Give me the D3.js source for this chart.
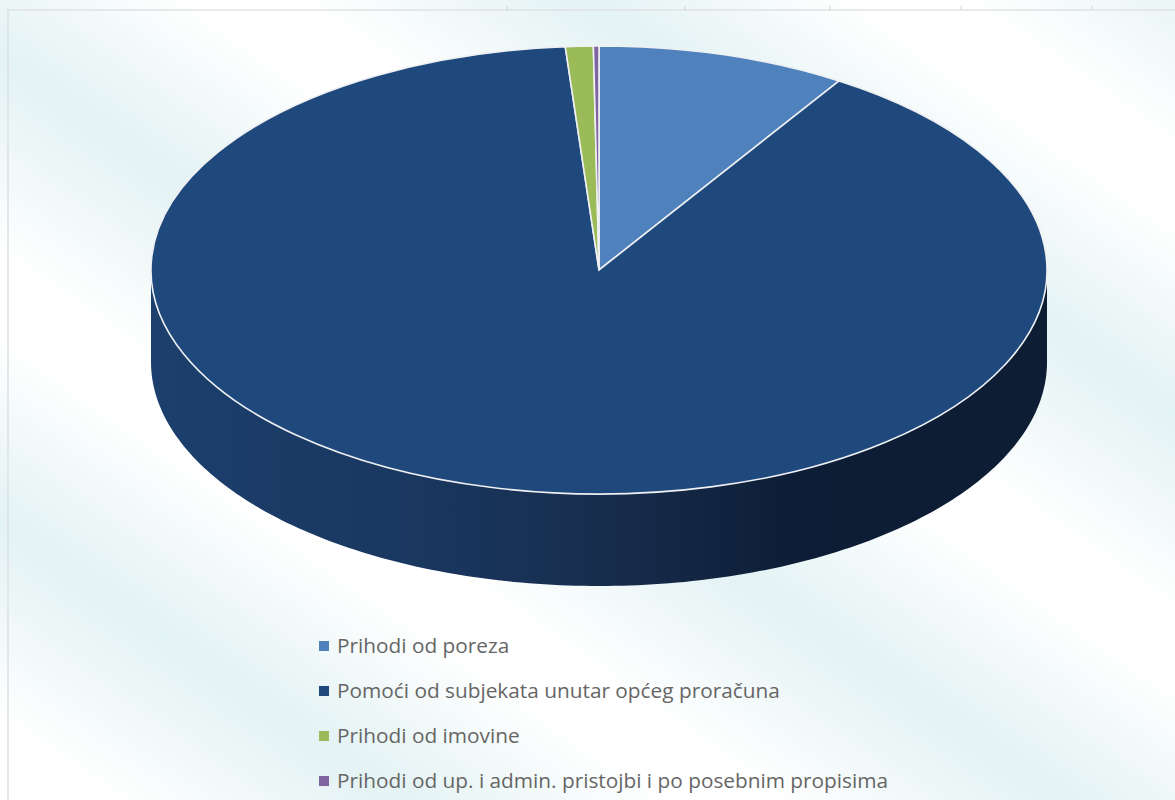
<!DOCTYPE html>
<html>
<head>
<meta charset="utf-8">
<script src="https://cdnjs.cloudflare.com/ajax/libs/d3/7.8.5/d3.min.js"></script>
<style>
html, body { margin: 0; padding: 0; background: #fff; overflow: hidden; }
</style>
</head>
<body>
<div id="chart"></div>
<script>
var width = 1175;
var height = 800;

// chart data (percent of total)
var categories = [
    'Prihodi od poreza',
    'Pomoći od subjekata unutar općeg proračuna',
    'Prihodi od imovine',
    'Prihodi od up. i admin. pristojbi i po posebnim propisima'
];
var shares = [9.0, 89.8, 1.0, 0.2];
var sliceColors = ['#4f81bd', '#1f497d', '#9bbb59', '#8064a2'];
var rulerTicks = [507, 685, 830, 961, 1092];

// pie geometry
var cx = 599;
var cy = 270;
var rx = 448;
var ry = 224;
var depth = 92;

var svg = d3.select('#chart').append('svg')
    .attr('width', width)
    .attr('height', height)
    .style('display', 'block');

var defs = svg.append('defs');

// diagonal teal/white bands behind the chart
var bg = defs.append('linearGradient')
    .attr('id', 'bg-bands')
    .attr('gradientUnits', 'userSpaceOnUse')
    .attr('spreadMethod', 'repeat')
    .attr('x1', 0).attr('y1', 58)
    .attr('x2', -218).attr('y2', 370);
bg.append('stop').attr('offset', 0).attr('stop-color', '#e4f3f4');
bg.append('stop').attr('offset', 0.03).attr('stop-color', '#e5f3f4');
bg.append('stop').attr('offset', 0.43).attr('stop-color', '#ffffff');
bg.append('stop').attr('offset', 0.59).attr('stop-color', '#ffffff');
bg.append('stop').attr('offset', 0.97).attr('stop-color', '#e5f3f4');
bg.append('stop').attr('offset', 1).attr('stop-color', '#e4f3f4');

// shading of the pie wall, left to right
var wall = defs.append('linearGradient')
    .attr('id', 'wall-shade')
    .attr('gradientUnits', 'userSpaceOnUse')
    .attr('x1', cx - rx).attr('y1', 0)
    .attr('x2', cx + rx).attr('y2', 0);
wall.append('stop').attr('offset', 0).attr('stop-color', '#1c3f6d');
wall.append('stop').attr('offset', 0.3).attr('stop-color', '#19375f');
wall.append('stop').attr('offset', 0.52).attr('stop-color', '#172c4c');
wall.append('stop').attr('offset', 0.72).attr('stop-color', '#0c1d35');
wall.append('stop').attr('offset', 1).attr('stop-color', '#0c1d34');

svg.append('rect')
    .attr('width', width)
    .attr('height', height)
    .attr('fill', 'url(#bg-bands)');

// frame of the chart area and the sheet ticks above it
svg.append('path')
    .attr('d', 'M8,' + height + 'V10H' + width)
    .attr('fill', 'none')
    .attr('stroke', '#dfe2e3')
    .attr('stroke-width', 1.6);

svg.selectAll('.ruler')
    .data(rulerTicks)
    .enter().append('line')
    .attr('class', 'ruler')
    .attr('x1', function(d) { return d; })
    .attr('x2', function(d) { return d; })
    .attr('y1', 6)
    .attr('y2', 10)
    .attr('stroke', '#d0d3d4');

// wall of the pie: lower half of the ellipse pushed down by depth
var lowerHalf = [];
for (var i = 0; i <= 180; i++) {
    lowerHalf.push(Math.PI / 2 + i * Math.PI / 180);
}
var wallArea = d3.area()
    .x(function(a) { return cx + rx * Math.sin(a); })
    .y0(function(a) { return cy - ry * Math.cos(a); })
    .y1(function(a) { return cy - ry * Math.cos(a) + depth; });

svg.append('path')
    .attr('d', wallArea(lowerHalf))
    .attr('fill', 'url(#wall-shade)');

// top of the pie: a normal d3 pie squashed to an ellipse
var pie = d3.pie().sort(null);
var arc = d3.arc().innerRadius(0).outerRadius(rx);

svg.append('g')
    .attr('transform', 'translate(' + cx + ',' + cy + ') scale(1,' + (ry / rx) + ')')
    .selectAll('path')
    .data(pie(shares))
    .enter().append('path')
    .attr('d', arc)
    .attr('fill', function(d, i) { return sliceColors[i]; })
    .attr('stroke', '#eef0f3')
    .attr('stroke-width', 1.6)
    .attr('vector-effect', 'non-scaling-stroke');

// legend
var legendY = d3.scalePoint()
    .domain(categories)
    .range([646, 781]);

var legend = svg.selectAll('.legend')
    .data(categories)
    .enter().append('g')
    .attr('class', 'legend')
    .attr('transform', function(d) { return 'translate(319,' + legendY(d) + ')'; });

legend.append('rect')
    .attr('y', -5)
    .attr('width', 10)
    .attr('height', 10)
    .attr('fill', function(d, i) { return sliceColors[i]; });

legend.append('text')
    .attr('x', 18)
    .attr('y', 6.5)
    .attr('font-family', '"Open Sans", sans-serif')
    .attr('font-size', 20.8)
    .attr('fill', '#666666')
    .text(function(d) { return d; });
</script>
</body>
</html>
